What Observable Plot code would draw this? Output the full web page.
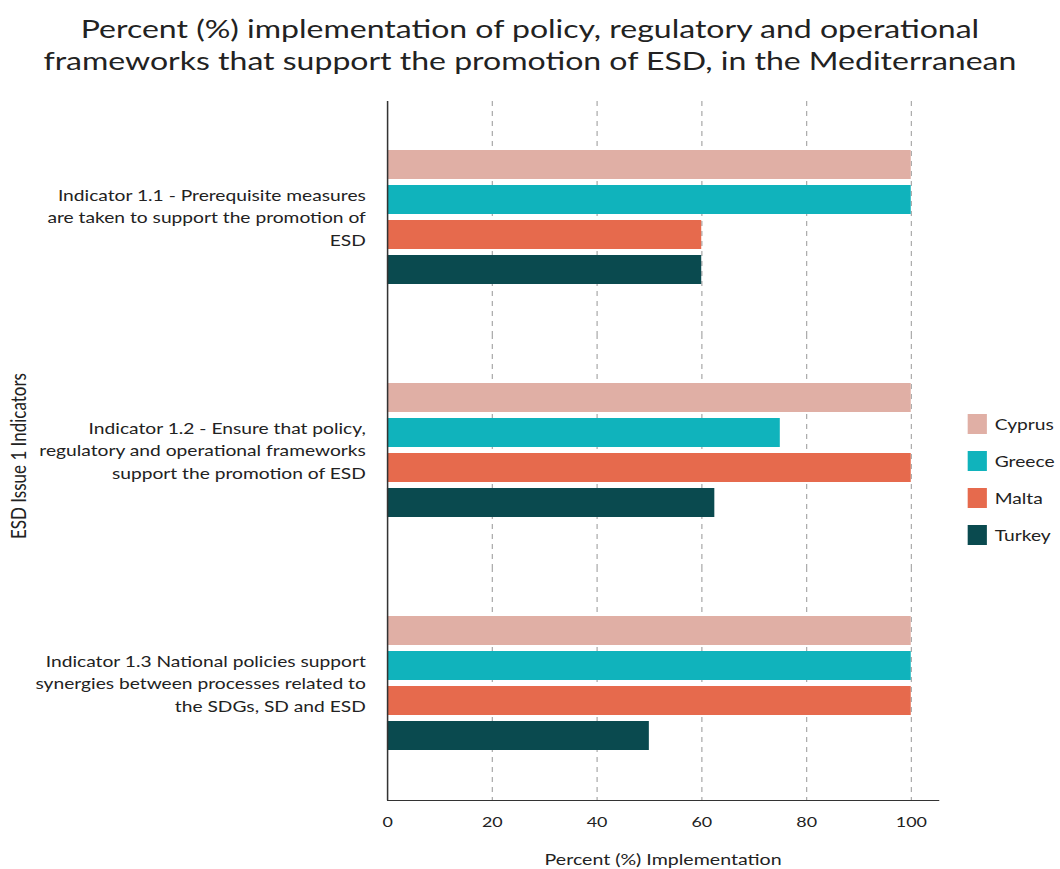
<!DOCTYPE html>
<html>
<head>
<meta charset="utf-8">
<script src="https://cdn.jsdelivr.net/npm/d3@7"></script>
<script src="https://cdn.jsdelivr.net/npm/@observablehq/plot@0.6"></script>
<style>
  html, body { margin: 0; padding: 0; background: #fff; }
  body { width: 1060px; height: 869px; position: relative; overflow: hidden; font-family: Lato, "Open Sans", sans-serif; color: #222; }
  /* the reference is horizontally stretched; reproduce it with a scaleX wrapper */
  #wrap { position: absolute; left: 0; top: 0; width: 828px; height: 869px; transform: scaleX(1.28); transform-origin: 0 0; }
  #title { position: absolute; left: 0; top: 12px; width: 828px; text-align: center; font-size: 25px; line-height: 32px; color: #222; }
  #chart { position: absolute; left: 0; top: 0; }
  #ylabel { position: absolute; left: 14px; top: 456px; transform: translate(-50%, -50%) rotate(-90deg); white-space: nowrap; font-size: 17px; color: #222; }
  #legend { position: absolute; left: 755.5px; top: 405.5px; }
  .item { display: flex; align-items: center; height: 37px; }
  .sw { width: 15.6px; height: 20px; margin-right: 6px; }
  .lab { font-size: 15px; color: #222; }
</style>
</head>
<body>
<div id="wrap">
  <div id="title">Percent (%) implementation of policy, regulatory and operational<br>frameworks that support the promotion of ESD, in the Mediterranean</div>
  <div id="chart"></div>
  <div id="ylabel">ESD Issue 1 Indicators</div>
  <div id="legend"></div>
</div>
<script>
const indicators = [
  "Indicator 1.1 - Prerequisite measures\nare taken to support the promotion of\nESD",
  "Indicator 1.2 - Ensure that policy,\nregulatory and operational frameworks\nsupport the promotion of ESD",
  "Indicator 1.3 National policies support\nsynergies between processes related to\nthe SDGs, SD and ESD"
];
const countries = ["Cyprus", "Greece", "Malta", "Turkey"];
const colors = ["#E0AFA5", "#10B3BC", "#E66A4D", "#0A4A4F"];
const cyprus = [100, 100, 100];
const greece = [100, 75, 100];
const malta = [60, 100, 100];
const turkey = [60, 62.5, 50];
const xTicks = [0, 20, 40, 60, 80, 100];

const series = [cyprus, greece, malta, turkey];
const data = [];
indicators.forEach((ind, i) => {
  countries.forEach((c, j) => data.push({indicator: ind, country: c, value: series[j][i]}));
});

const chart = Plot.plot({
  width: 745,
  height: 869,
  marginTop: 100,
  marginBottom: 69,
  marginLeft: 302.3,
  marginRight: 12.2,
  style: {fontFamily: "Lato, 'Open Sans', sans-serif", fontSize: "15px", color: "#222"},
  x: {domain: [0, 105.2], ticks: xTicks, label: null},
  y: {domain: countries, axis: null, paddingInner: 0.17, paddingOuter: 1.4},
  fy: {domain: indicators, padding: 0, label: null, axis: null},
  color: {domain: countries, range: colors},
  marks: [
    Plot.gridX(xTicks.filter(d => d > 0), {stroke: "#999", strokeOpacity: 0.8, strokeDasharray: "5,5"}),
    Plot.barX(data, {x: "value", y: "country", fy: "indicator", fill: "country"}),
    Plot.ruleX([0], {stroke: "#333", strokeWidth: 1.2}),
    Plot.frame({anchor: "bottom", facetAnchor: "bottom", stroke: "#333"}),
    Plot.axisX({ticks: xTicks, tickSize: 0, tickPadding: 17, fontSize: 14, label: null}),
    Plot.axisX({ticks: [], tickSize: 0, fontSize: 15.3, label: "Percent (%) Implementation", labelAnchor: "center", labelOffset: 64, labelArrow: false}),
    Plot.axisFy({anchor: "left", tickSize: 0, tickPadding: 17, lineHeight: 1.5, fontSize: 15, label: null, textOverflow: null, dy: -2})
  ]
});
document.getElementById("chart").appendChild(chart);

const legend = document.getElementById("legend");
countries.forEach((c, i) => {
  const it = document.createElement("div");
  it.className = "item";
  it.innerHTML = `<div class="sw" style="background:${colors[i]}"></div><div class="lab">${c}</div>`;
  legend.appendChild(it);
});
</script>
</body>
</html>
